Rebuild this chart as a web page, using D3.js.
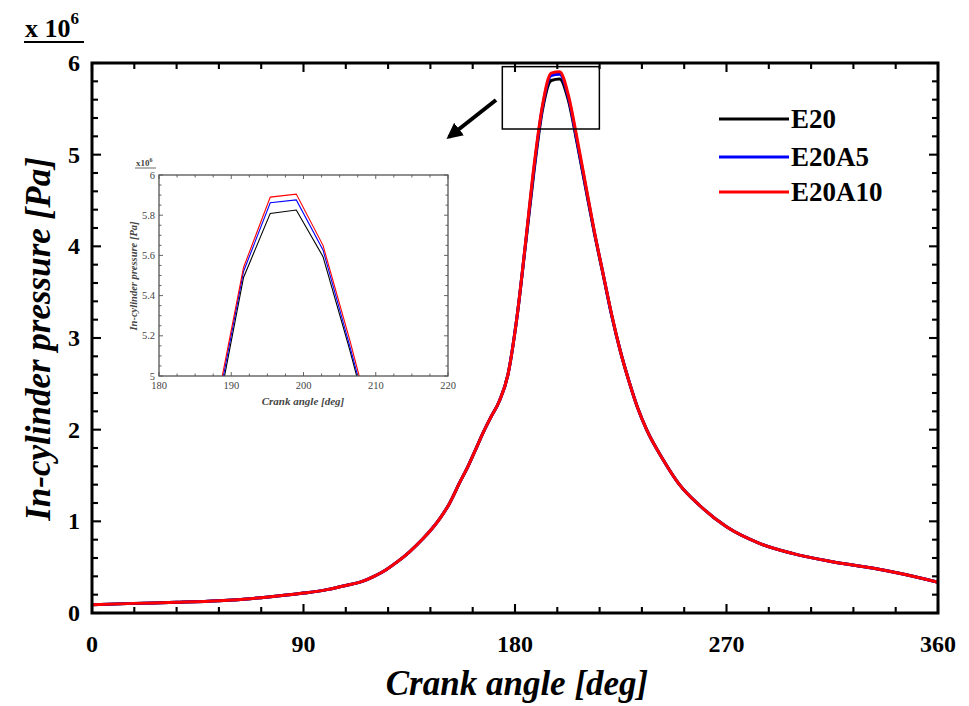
<!DOCTYPE html>
<html>
<head>
<meta charset="utf-8">
<script src="https://cdn.jsdelivr.net/npm/d3@7"></script>
<style>
  body { margin: 0; background: #fff; }
  text { font-family: "Liberation Serif", "DejaVu Serif", serif; }
</style>
</head>
<body>
<div id="chart"></div>
<script>
// crank angle [deg] and in-cylinder pressure [x 10^6 Pa]
var angle = [0, 18, 36, 54, 72, 90, 100, 108, 115, 120, 125, 130, 135, 141, 145, 148, 152, 156.6, 160, 163.7, 166.5,
             169.6, 173.3, 177.0, 180.7, 184.4, 188.0, 191.7, 195.4, 199.0, 202.7, 206.4, 210.1, 213.8, 217.5, 221.2,
             224.9, 228.6, 232.3, 236, 243.1, 250, 258.7, 270, 284, 298, 315, 332, 344, 360];

var pE20 = [0.09, 0.105, 0.117, 0.134, 0.167, 0.217, 0.255, 0.30, 0.345, 0.40, 0.47, 0.56, 0.665, 0.815, 0.93, 1.03, 1.19, 1.43, 1.60, 1.81, 1.97,
            2.13, 2.31, 2.60, 3.20, 4.00, 4.80, 5.49, 5.809, 5.826, 5.594, 5.13, 4.63, 4.14, 3.69, 3.24,
            2.85, 2.52, 2.23, 2.0, 1.67, 1.40, 1.17, 0.94, 0.76, 0.65, 0.56, 0.49, 0.43, 0.335];

var pE20A5 = [0.09, 0.105, 0.117, 0.134, 0.167, 0.217, 0.255, 0.30, 0.345, 0.40, 0.47, 0.56, 0.665, 0.815, 0.93, 1.03, 1.19, 1.43, 1.60, 1.81, 1.97,
              2.13, 2.31, 2.60, 3.20, 4.01, 4.83, 5.52, 5.862, 5.876, 5.627, 5.15, 4.65, 4.15, 3.70, 3.24,
              2.85, 2.52, 2.23, 2.0, 1.67, 1.40, 1.17, 0.94, 0.76, 0.65, 0.56, 0.49, 0.43, 0.335];

var pE20A10 = [0.09, 0.105, 0.117, 0.134, 0.167, 0.217, 0.255, 0.30, 0.345, 0.40, 0.47, 0.56, 0.665, 0.815, 0.93, 1.03, 1.19, 1.43, 1.60, 1.81, 1.97,
               2.13, 2.31, 2.60, 3.20, 4.02, 4.86, 5.54, 5.89, 5.905, 5.65, 5.18, 4.67, 4.16, 3.70, 3.25,
               2.85, 2.52, 2.23, 2.0, 1.67, 1.40, 1.17, 0.94, 0.76, 0.65, 0.56, 0.49, 0.43, 0.335];

var seriesNames = ["E20", "E20A5", "E20A10"];
var seriesColors = ["#000000", "#0000ff", "#ff0000"];
var seriesValues = [pE20, pE20A5, pE20A10];

var xTicks = [0, 90, 180, 270, 360];
var yTicks = [0, 1, 2, 3, 4, 5, 6];
var insetXTicks = [180, 190, 200, 210, 220];
var insetYTicks = [5, 5.2, 5.4, 5.6, 5.8, 6];
var zoomBoxX = [174.6, 215.9];   // region marked by the rectangle
var zoomBoxY = [5.28, 5.96];

var width = 969, height = 706;
var svg = d3.select("#chart").append("svg")
    .attr("width", width).attr("height", height);

var x = d3.scaleLinear().domain([0, 360]).range([92, 938]);
var y = d3.scaleLinear().domain([0, 6]).range([613, 63]);

var series = seriesNames.map(function(n, i) {
  return { name: n, color: seriesColors[i],
           pts: angle.map(function(a, j) { return [a, seriesValues[i][j]]; }) };
});

// frame with ticks pointing inward on all four sides
function drawFrame(g, sx, sy, major, minorX, minorY, stroke, sw, lenMaj, lenMin) {
  var x0 = sx.range()[0], x1 = sx.range()[1], y0 = sy.range()[0], y1 = sy.range()[1];
  minorX.forEach(function(v) {
    var L = major.x.indexOf(v) >= 0 ? lenMaj : lenMin;
    g.append("line").attr("x1", sx(v)).attr("x2", sx(v)).attr("y1", y0).attr("y2", y0 - L)
      .attr("stroke", stroke).attr("stroke-width", sw * 0.7);
    g.append("line").attr("x1", sx(v)).attr("x2", sx(v)).attr("y1", y1).attr("y2", y1 + L)
      .attr("stroke", stroke).attr("stroke-width", sw * 0.7);
  });
  minorY.forEach(function(v) {
    var L = major.y.indexOf(v) >= 0 ? lenMaj : lenMin;
    g.append("line").attr("y1", sy(v)).attr("y2", sy(v)).attr("x1", x0).attr("x2", x0 + L)
      .attr("stroke", stroke).attr("stroke-width", sw * 0.7);
    g.append("line").attr("y1", sy(v)).attr("y2", sy(v)).attr("x1", x1).attr("x2", x1 - L)
      .attr("stroke", stroke).attr("stroke-width", sw * 0.7);
  });
  g.append("rect").attr("x", x0).attr("y", y1).attr("width", x1 - x0).attr("height", y0 - y1)
    .attr("fill", "none").attr("stroke", stroke).attr("stroke-width", sw);
}

var mainMinorX = d3.range(0, 361, 18);
var mainMinorY = d3.range(0, 31).map(function(i) { return +(i * 0.2).toFixed(1); });

var line = d3.line().curve(d3.curveMonotoneX)
  .x(function(d) { return x(d[0]); }).y(function(d) { return y(d[1]); });

svg.append("g").selectAll("path").data(series).enter().append("path")
  .attr("d", function(d) { return line(d.pts); })
  .attr("fill", "none")
  .attr("stroke", function(d) { return d.color; })
  .attr("stroke-width", 3)
  .attr("stroke-linejoin", "round");

drawFrame(svg.append("g"), x, y, { x: xTicks, y: yTicks }, mainMinorX, mainMinorY, "#000", 3, 9, 6);

svg.append("g").selectAll("text").data(xTicks).enter().append("text")
  .attr("x", function(d) { return x(d); }).attr("y", 652)
  .attr("text-anchor", "middle").attr("font-size", 24).attr("font-weight", "bold")
  .text(function(d) { return d; });

svg.append("g").selectAll("text").data(yTicks).enter().append("text")
  .attr("x", 80).attr("y", function(d) { return y(d) + 8; })
  .attr("text-anchor", "end").attr("font-size", 24).attr("font-weight", "bold")
  .text(function(d) { return d; });

svg.append("text").attr("x", 517).attr("y", 695).attr("text-anchor", "middle")
  .attr("font-size", 35).attr("font-weight", "bold").attr("font-style", "italic")
  .text("Crank angle [deg]");

svg.append("text").attr("transform", "translate(50,339) rotate(-90)").attr("text-anchor", "middle")
  .attr("font-size", 35).attr("font-weight", "bold").attr("font-style", "italic")
  .text("In-cylinder pressure [Pa]");

// exponent label
var expo = svg.append("text").attr("x", 25).attr("y", 37).attr("font-size", 26).attr("font-weight", "bold");
expo.append("tspan").text("x 10");
expo.append("tspan").attr("dy", -13).attr("font-size", 17).text("6");
svg.append("line").attr("x1", 24).attr("x2", 84).attr("y1", 42).attr("y2", 42)
  .attr("stroke", "#000").attr("stroke-width", 2);

// legend
var legend = svg.append("g");
series.forEach(function(s, i) {
  var ly = [119, 157, 192][i];
  legend.append("line").attr("x1", 719).attr("x2", 789).attr("y1", ly).attr("y2", ly)
    .attr("stroke", s.color).attr("stroke-width", 3);
  legend.append("text").attr("x", 791).attr("y", ly + 9).attr("font-size", 27).attr("font-weight", "bold")
    .text(s.name);
});

// zoom rectangle and arrow
svg.append("rect")
  .attr("x", x(zoomBoxX[0])).attr("y", y(zoomBoxY[1]))
  .attr("width", x(zoomBoxX[1]) - x(zoomBoxX[0])).attr("height", y(zoomBoxY[0]) - y(zoomBoxY[1]))
  .attr("fill", "none").attr("stroke", "#000").attr("stroke-width", 1.5);

svg.append("defs").append("marker").attr("id", "arrowhead")
  .attr("viewBox", "0 0 10 10").attr("refX", 8).attr("refY", 5)
  .attr("markerWidth", 4).attr("markerHeight", 4).attr("orient", "auto")
  .append("path").attr("d", "M0,0 L10,5 L0,10 z").attr("fill", "#000");
svg.append("line").attr("x1", 496).attr("y1", 100).attr("x2", 449).attr("y2", 137)
  .attr("stroke", "#000").attr("stroke-width", 4).attr("marker-end", "url(#arrowhead)");

// ---- inset
var ix = d3.scaleLinear().domain([180, 220]).range([159, 448]);
var iy = d3.scaleLinear().domain([5, 6]).range([376, 175]);
var inset = svg.append("g");
inset.append("rect").attr("x", 159).attr("y", 175).attr("width", 289).attr("height", 201).attr("fill", "#fff");

svg.select("defs").append("clipPath").attr("id", "insetClip")
  .append("rect").attr("x", 159).attr("y", 175).attr("width", 289).attr("height", 201);

var iline = d3.line().x(function(d) { return ix(d[0]); }).y(function(d) { return iy(d[1]); });
inset.append("g").attr("clip-path", "url(#insetClip)")
  .selectAll("path").data(series).enter().append("path")
  .attr("d", function(d) { return iline(d.pts); })
  .attr("fill", "none").attr("stroke", function(d) { return d.color; }).attr("stroke-width", 1.1);

drawFrame(inset.append("g"), ix, iy, { x: insetXTicks, y: insetYTicks },
  d3.range(180, 221, 2.5), d3.range(0, 21).map(function(i) { return +(5 + i * 0.05).toFixed(2); }),
  "#555", 1.3, 4, 2.5);

inset.append("g").selectAll("text").data(insetXTicks).enter().append("text")
  .attr("x", function(d) { return ix(d); }).attr("y", 389)
  .attr("text-anchor", "middle").attr("font-size", 10.5).attr("fill", "#444")
  .text(function(d) { return d; });
inset.append("g").selectAll("text").data(insetYTicks).enter().append("text")
  .attr("x", 155).attr("y", function(d) { return iy(d) + 3.5; })
  .attr("text-anchor", "end").attr("font-size", 10.5).attr("fill", "#444")
  .text(function(d) { return d; });
inset.append("text").attr("x", 303).attr("y", 405).attr("text-anchor", "middle")
  .attr("font-size", 11).attr("font-style", "italic").attr("font-weight", "bold").attr("fill", "#444")
  .text("Crank angle [deg]");
inset.append("text").attr("transform", "translate(137,276) rotate(-90)").attr("text-anchor", "middle")
  .attr("font-size", 10.5).attr("font-style", "italic").attr("font-weight", "bold").attr("fill", "#444")
  .text("In-cylinder pressure [Pa]");
var iexpo = inset.append("text").attr("x", 136).attr("y", 166).attr("font-size", 9)
  .attr("font-weight", "bold").attr("fill", "#444");
iexpo.append("tspan").text("x10");
iexpo.append("tspan").attr("dy", -4).attr("font-size", 6).text("6");
inset.append("line").attr("x1", 135).attr("x2", 156).attr("y1", 168).attr("y2", 168)
  .attr("stroke", "#444").attr("stroke-width", 0.8);
</script>
</body>
</html>
